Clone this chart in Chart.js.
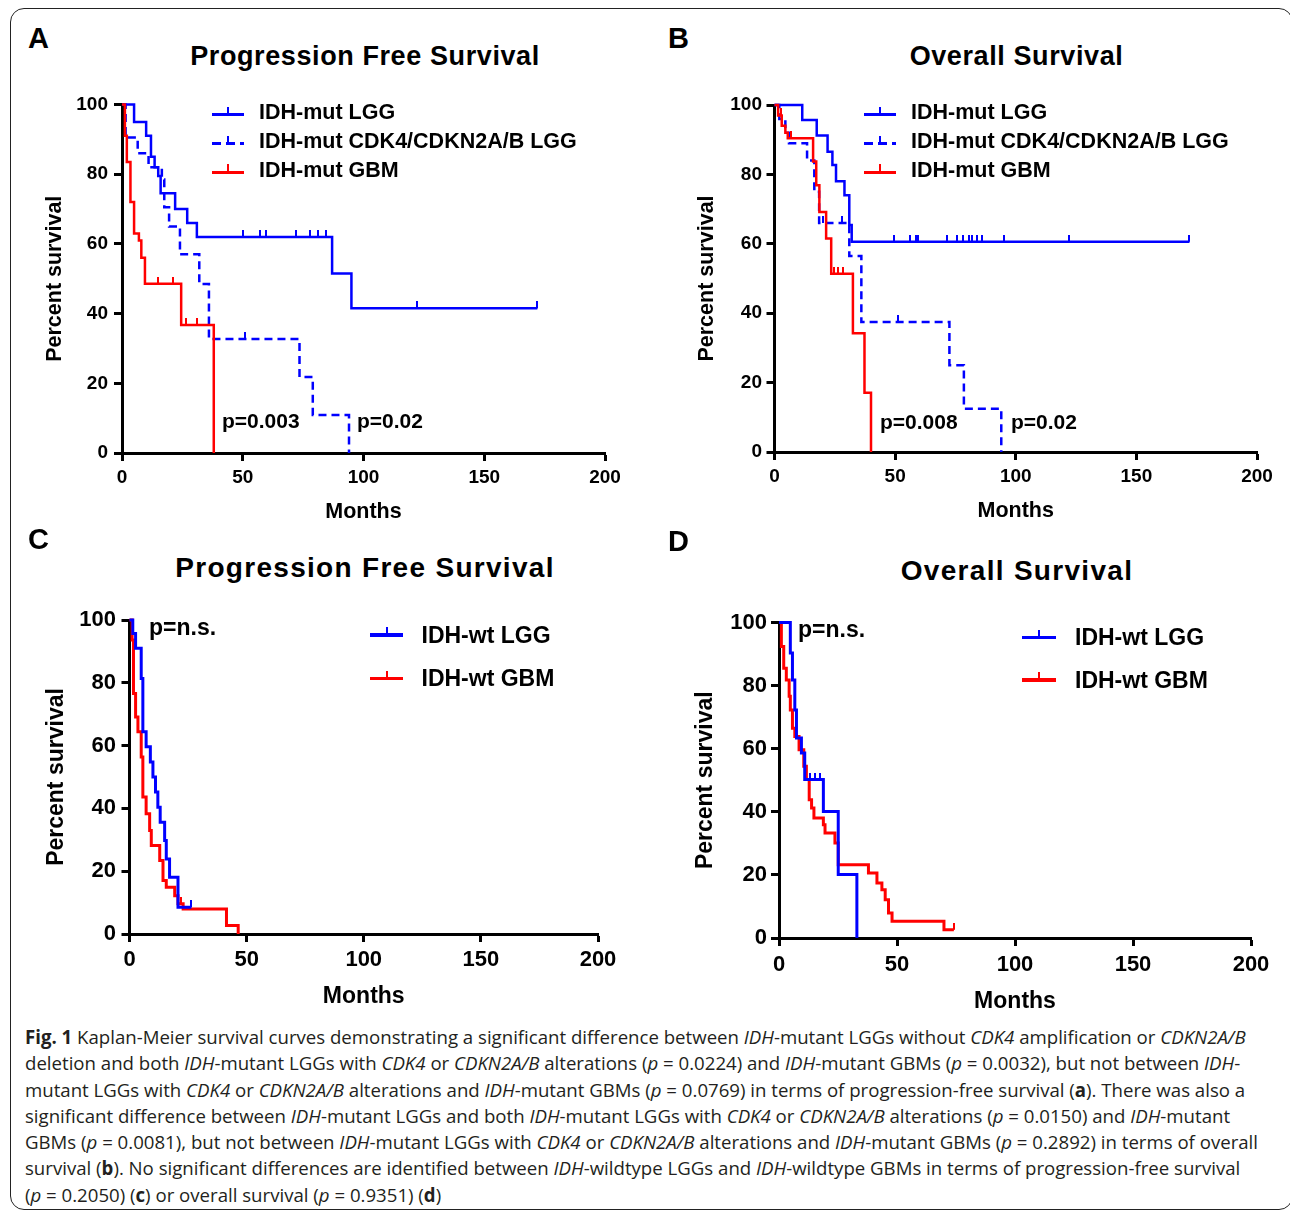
<!DOCTYPE html>
<html>
<head>
<meta charset="utf-8">
<script src="https://cdn.jsdelivr.net/npm/chart.js@4.4.0/dist/chart.umd.min.js"></script>
<style>
html, body { margin: 0; padding: 0; background: #fff; }
body { width: 1290px; height: 1215px; position: relative; overflow: hidden; font-family: "Liberation Sans", Arial, sans-serif; }
.frame { position: absolute; left: 10px; top: 8px; width: 1283px; height: 1202px; border: 1.5px solid #222; border-radius: 14px; box-sizing: border-box; }
.t { position: absolute; line-height: 1; white-space: nowrap; color: #000; }
canvas.c { position: absolute; }
.caption { position: absolute; left: 25px; top: 1024px; font-family: "Open Sans", "Noto Sans", sans-serif; font-size: 19px; line-height: 26.3px; color: #231f20; white-space: nowrap; transform-origin: 0 0; transform: scaleX(0.98); }
.caption b { font-weight: bold; }
</style>
</head>
<body>
<div class="frame"></div>
<div class="caption" id="caption">
<b>Fig. 1</b> Kaplan-Meier survival curves demonstrating a significant difference between <i>IDH</i>-mutant LGGs without <i>CDK4</i> amplification or <i>CDKN2A/B</i><br>
deletion and both <i>IDH</i>-mutant LGGs with <i>CDK4</i> or <i>CDKN2A/B</i> alterations (<i>p</i> = 0.0224) and <i>IDH</i>-mutant GBMs (<i>p</i> = 0.0032), but not between <i>IDH</i>-<br>
mutant LGGs with <i>CDK4</i> or <i>CDKN2A/B</i> alterations and <i>IDH</i>-mutant GBMs (<i>p</i> = 0.0769) in terms of progression-free survival (<b>a</b>). There was also a<br>
significant difference between <i>IDH</i>-mutant LGGs and both <i>IDH</i>-mutant LGGs with <i>CDK4</i> or <i>CDKN2A/B</i> alterations (<i>p</i> = 0.0150) and <i>IDH</i>-mutant<br>
GBMs (<i>p</i> = 0.0081), but not between <i>IDH</i>-mutant LGGs with <i>CDK4</i> or <i>CDKN2A/B</i> alterations and <i>IDH</i>-mutant GBMs (<i>p</i> = 0.2892) in terms of overall<br>
survival (<b>b</b>). No significant differences are identified between <i>IDH</i>-wildtype LGGs and <i>IDH</i>-wildtype GBMs in terms of progression-free survival<br>
(<i>p</i> = 0.2050) (<b>c</b>) or overall survival (<i>p</i> = 0.9351) (<b>d</b>)
</div>
<script>
// ── data (months / percent survival) ──
const xTicks = [0, 50, 100, 150, 200];
const yTicks = [0, 20, 40, 60, 80, 100];

// A: progression free survival, IDH-mutant
const aLggT = [0, 5, 10, 12, 13.5, 15, 16, 22, 27, 31, 87, 95, 172];
const aLggS = [100, 95, 91, 85, 82, 79.5, 74.5, 70, 66, 62, 51.5, 41.5, 41.5];
const aLggCens = [50, 57, 59.5, 72, 78, 81, 84.5, 122, 172];
const aCdkT = [0, 1.5, 6.5, 11, 16.5, 17.5, 19.5, 24, 32, 36, 73.5, 79, 94];
const aCdkS = [100, 90.5, 86, 82, 78.5, 70.5, 65, 57, 48.5, 32.7, 21.8, 10.9, 0];
const aCdkCens = [51];
const aGbmT = [0, 1.2, 2, 3.5, 5, 7, 8, 9.5, 24.5, 38];
const aGbmS = [100, 91, 83.5, 72, 63, 61, 56, 48.6, 36.7, 0];
const aGbmCens = [15, 21, 26.5, 31];

// B: overall survival, IDH-mutant
const bLggT = [0, 11.5, 17.5, 22, 24, 25.5, 29, 31, 32, 172];
const bLggS = [100, 95.7, 91.2, 86.5, 82.7, 78, 74, 65.4, 60.6, 60.6];
const bLggCens = [49.7, 56, 58.7, 59.4, 71.6, 75.5, 78, 80.5, 82, 84, 86, 95, 122, 172];
const bCdkT = [0, 2, 4.5, 6, 13.5, 16.5, 18.5, 31, 36, 72.5, 78.5, 94];
const bCdkS = [100, 96, 92, 89, 84, 75, 66, 56.5, 37.5, 25, 12.5, 0];
const bCdkCens = [20, 28, 51];
const bGbmT = [0, 1.5, 3, 4.5, 5.5, 16, 17.3, 18.6, 21.4, 23.5, 32.5, 37.3, 40];
const bGbmS = [100, 97, 94, 92, 90.4, 83.7, 76.9, 69.2, 61.5, 51.4, 34.2, 17.1, 0];
const bGbmCens = [2.5, 7, 24.5, 26.5, 28.5];

// C: progression free survival, IDH-wildtype
const cLggT = [0, 1.4, 2.6, 5, 5.7, 7.1, 8.9, 10, 11.1, 12.1, 13.1, 15, 15.7, 17.1, 20.7, 26.4];
const cLggS = [100, 95.7, 91, 81.4, 64.4, 59.6, 54.8, 50, 45.2, 40.4, 35.6, 29.8, 23.9, 18.1, 8.5, 8.5];
const cLggCens = [26.4];
const cGbmT = [0, 1.1, 1.7, 2.6, 3.6, 5, 5.7, 7.1, 8.6, 9.3, 12.9, 14.3, 15.7, 19.3, 20.7, 22.9, 41.4, 46.4];
const cGbmS = [100, 93.6, 76.6, 69.1, 64.4, 56.4, 43.6, 38.3, 33, 28.2, 23.4, 17, 14.9, 12.2, 9.6, 8, 2.7, 0];
const cGbmCens = [22];

// D: overall survival, IDH-wildtype
const dLggT = [0, 4.8, 5.7, 6.7, 7.4, 9.5, 10.9, 18.8, 25.1, 33];
const dLggS = [100, 90.3, 81.8, 72.3, 63.4, 58.6, 50.2, 40.1, 20.1, 0];
const dLggCens = [13.1, 15.2, 17.3];
const dGbmT = [0, 1, 2, 3.1, 4.3, 4.8, 5.7, 6.7, 8.5, 10.5, 11.6, 12.8, 13.8, 14.8, 18.8, 19.5, 23.7, 25.1, 37.9, 41.5, 43.6, 45, 46.4, 47.9, 69.9, 74.1];
const dGbmS = [100, 92.4, 85.5, 81.8, 76.6, 72.3, 66.5, 63.9, 59.7, 54.4, 50.2, 43.8, 41.2, 38, 35.9, 33.3, 30.1, 23.2, 20.6, 17.4, 15.3, 12.1, 7.9, 5.3, 2.6, 2.6];
const dGbmCens = [74.1];

const FONT = '"Liberation Sans", Arial, sans-serif';
const BLUE = '#0000ff', RED = '#ff0000';

// ── helpers ──
const km = (t, s) => t.map((x, i) => ({ x, y: s[i] }));
function survAt(t, s, x) {
    let v = s[0];
    t.forEach((tt, i) => { if (tt <= x) v = s[i]; });
    return v;
}
const cens = (t, s, c) => c.map(x => ({ x, y: survAt(t, s, x) }));
function tickImg(color, w, h) {
    const c = document.createElement('canvas');
    c.width = w; c.height = h * 2;
    const g = c.getContext('2d');
    g.fillStyle = color;
    g.fillRect(0, 0, w, h);
    return c;
}

function text(str, x, base, size, opt = {}) {
    const d = document.createElement('div');
    d.className = 't';
    d.textContent = str;
    d.style.fontSize = size + 'px';
    d.style.fontWeight = opt.weight || 'bold';
    if (opt.ls) d.style.letterSpacing = opt.ls + 'px';
    d.style.top = (base - 0.8465 * size) + 'px';
    d.style.left = x + 'px';
    if (opt.center) d.style.transform = 'translateX(-50%)';
    document.body.appendChild(d);
}

function legendEntry(x, y, w, color, dashed, lw) {
    const l = document.createElement('div');
    l.style.cssText = `position:absolute;left:${x}px;top:${y - lw / 2}px;width:${w}px;height:${lw}px;` +
        (dashed ? `background:repeating-linear-gradient(90deg,${color} 0 9px,transparent 9px 14px);` : `background:${color};`);
    document.body.appendChild(l);
    const tk = document.createElement('div');
    tk.style.cssText = `position:absolute;left:${x + w / 2 - 1}px;top:${y - 8}px;width:2px;height:8px;background:${color};`;
    document.body.appendChild(tk);
}

function makePanel(box, series, fs) {
    const cv = document.createElement('canvas');
    cv.className = 'c';
    cv.width = box.w; cv.height = box.h;
    cv.style.left = box.left + 'px';
    cv.style.top = box.top + 'px';
    document.body.appendChild(cv);

    const datasets = [];
    series.forEach(s => {
        datasets.push({
            data: km(s.t, s.s), stepped: 'before', borderColor: s.color, borderWidth: fs.lw,
            borderDash: s.dashed ? [8, 5] : [], pointRadius: 0, fill: false, clip: false, order: s.order
        });
        datasets.push({
            data: cens(s.t, s.s, s.c), showLine: false, pointStyle: tickImg(s.color, 2, 7),
            pointRadius: 3, clip: false, order: s.order
        });
    });

    const tickFont = { family: FONT, size: fs.tick, weight: 'bold', lineHeight: 1 };
    const titleFont = { family: FONT, size: fs.axis, weight: 'bold', lineHeight: 1 };
    new Chart(cv, {
        type: 'line',
        data: { datasets },
        options: {
            responsive: false,
            animation: false,
            events: [],
            layout: { padding: { top: box.padTop, right: box.padRight, left: 0, bottom: 0 } },
            plugins: { legend: { display: false }, tooltip: { enabled: false } },
            scales: {
                x: {
                    type: 'linear', min: 0, max: 200, position: 'bottom',
                    afterBuildTicks: s => { s.ticks = xTicks.map(v => ({ value: v })); },
                    ticks: { color: '#000', font: tickFont, padding: box.xTickPad, maxRotation: 0, autoSkip: false },
                    grid: { drawOnChartArea: false, drawTicks: true, tickLength: 8, tickWidth: 3, tickColor: '#000' },
                    border: { display: true, color: '#000', width: 3 },
                    title: { display: true, text: 'Months', color: '#000', font: titleFont, padding: { top: 0, bottom: box.xTitlePad } },
                    afterFit: s => { s.height = box.xH; }
                },
                y: {
                    type: 'linear', min: 0, max: 100, position: 'left',
                    afterBuildTicks: s => { s.ticks = yTicks.map(v => ({ value: v })); },
                    ticks: { color: '#000', font: tickFont, padding: box.yTickPad },
                    grid: { drawOnChartArea: false, drawTicks: true, tickLength: 8, tickWidth: 3, tickColor: '#000' },
                    border: { display: true, color: '#000', width: 3 },
                    title: { display: true, text: 'Percent survival', color: '#000', font: titleFont, padding: { top: box.yTitlePad, bottom: 0 } },
                    afterFit: s => { s.width = box.yW; }
                }
            }
        }
    });
}

const fsAB = { tick: 19, axis: 21.5, lw: 2.5 };
const fsCD = { tick: 22, axis: 23, lw: 3 };

// ── panel A ──
makePanel({ left: 15, top: 85, w: 625, h: 450, yW: 107, xH: 82, padTop: 19.5, padRight: 35,
    yTitlePad: 40 - 10.75, xTitlePad: 23 - 10.75, xTickPad: 7.5, yTickPad: 6 }, [
    { t: aLggT, s: aLggS, c: aLggCens, color: BLUE, order: 2 },
    { t: aCdkT, s: aCdkS, c: aCdkCens, color: BLUE, dashed: true, order: 1 },
    { t: aGbmT, s: aGbmS, c: aGbmCens, color: RED, order: 0 }
], fsAB);

// ── panel B ──
makePanel({ left: 667, top: 85, w: 620, h: 450, yW: 107.5, xH: 83, padTop: 20, padRight: 30,
    yTitlePad: 40 - 10.75, xTitlePad: 24 - 10.75, xTickPad: 7.5, yTickPad: 4.5 }, [
    { t: bLggT, s: bLggS, c: bLggCens, color: BLUE, order: 2 },
    { t: bCdkT, s: bCdkS, c: bCdkCens, color: BLUE, dashed: true, order: 1 },
    { t: bGbmT, s: bGbmS, c: bGbmCens, color: RED, order: 0 }
], fsAB);

// ── panel C ──
makePanel({ left: 15, top: 600, w: 625, h: 420, yW: 114.5, xH: 86, padTop: 20, padRight: 42,
    yTitlePad: 42 - 11.5, xTitlePad: 23 - 11.5, xTickPad: 7, yTickPad: 5.5 }, [
    { t: cLggT, s: cLggS, c: cLggCens, color: BLUE, order: 0 },
    { t: cGbmT, s: cGbmS, c: cGbmCens, color: RED, order: 1 }
], fsCD);

// ── panel D ──
makePanel({ left: 667, top: 600, w: 620, h: 425, yW: 112, xH: 87, padTop: 22.5, padRight: 36,
    yTitlePad: 39 - 11.5, xTitlePad: 23 - 11.5, xTickPad: 8, yTickPad: 4 }, [
    { t: dLggT, s: dLggS, c: dLggCens, color: BLUE, order: 0 },
    { t: dGbmT, s: dGbmS, c: dGbmCens, color: RED, order: 1 }
], fsCD);

// ── letters, titles ──
text('A', 28, 48.5, 29);
text('B', 668, 48.5, 29);
text('C', 28, 550, 29);
text('D', 668, 552, 29);
text('Progression Free Survival', 365, 66, 27, { center: true, ls: 0.6 });
text('Overall Survival', 1016.5, 66, 27, { center: true, ls: 0.6 });
text('Progression Free Survival', 365, 578, 28, { center: true, ls: 1.3 });
text('Overall Survival', 1017, 581, 28, { center: true, ls: 1.3 });

// ── legends ──
legendEntry(212, 114.5, 32, BLUE, false, 3);
legendEntry(212, 143.5, 32, BLUE, true, 3);
legendEntry(212, 172, 32, RED, false, 3);
text('IDH-mut LGG', 259, 120.5, 21.5);
text('IDH-mut CDK4/CDKN2A/B LGG', 259, 149.5, 21.5);
text('IDH-mut GBM', 259, 178, 21.5);

legendEntry(864, 114.5, 32, BLUE, false, 3);
legendEntry(864, 143.5, 32, BLUE, true, 3);
legendEntry(864, 172, 32, RED, false, 3);
text('IDH-mut LGG', 911, 120.5, 21.5);
text('IDH-mut CDK4/CDKN2A/B LGG', 911, 149.5, 21.5);
text('IDH-mut GBM', 911, 178, 21.5);

legendEntry(370, 635, 33, BLUE, false, 3.5);
legendEntry(370, 678.5, 33, RED, false, 3.5);
text('IDH-wt LGG', 421.5, 643, 23);
text('IDH-wt GBM', 421.5, 686, 23);

legendEntry(1022, 637.5, 34, BLUE, false, 3.5);
legendEntry(1022, 680, 34, RED, false, 3.5);
text('IDH-wt LGG', 1075, 645, 23);
text('IDH-wt GBM', 1075, 688, 23);

// ── p values ──
text('p=0.003', 222, 428, 21);
text('p=0.02', 357, 428, 21);
text('p=0.008', 880, 429, 21);
text('p=0.02', 1011, 429, 21);
text('p=n.s.', 149, 635, 23);
text('p=n.s.', 798, 637, 23);
</script>
</body>
</html>
